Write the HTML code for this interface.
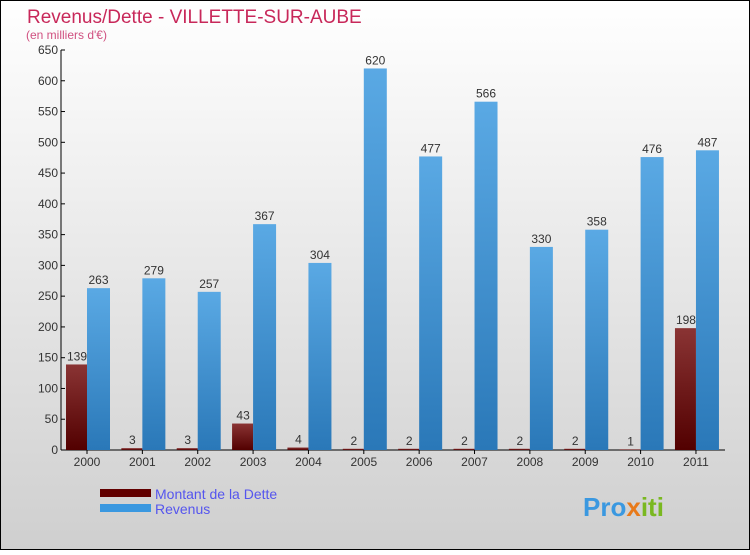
<!DOCTYPE html>
<html><head><meta charset="utf-8"><style>
body{margin:0}
svg text{font-family:"Liberation Sans",sans-serif}
</style></head><body>
<svg id="c" width="750" height="550" xmlns="http://www.w3.org/2000/svg">
<defs>
<linearGradient id="bg" x1="0" y1="0" x2="0" y2="1"><stop offset="0" stop-color="#ffffff"/><stop offset="1" stop-color="#cfcfcf"/></linearGradient>
<linearGradient id="gr" x1="0" y1="0" x2="0" y2="1"><stop offset="0" stop-color="#8a3434"/><stop offset="1" stop-color="#520000"/></linearGradient>
<linearGradient id="gb" x1="0" y1="0" x2="0" y2="1"><stop offset="0" stop-color="#5aa9e4"/><stop offset="1" stop-color="#2a78b8"/></linearGradient>
</defs>
<rect x="0.5" y="0.5" width="749" height="549" fill="url(#bg)" stroke="#000"/>
<text x="27" y="23" font-size="19" fill="#c8285a">Revenus/Dette - VILLETTE-SUR-AUBE</text>
<text x="26" y="39" font-size="12" fill="#d05080">(en milliers d'€)</text>
<g id="axes"></g>
<g id="bars"></g>
<rect x="100" y="489" width="51" height="8" fill="#620000"/>
<text x="155" y="499" font-size="14" fill="#5555ee">Montant de la Dette</text>
<rect x="100" y="504" width="51" height="8" fill="#3a98e0"/>
<text x="155" y="514" font-size="14" fill="#5555ee">Revenus</text>
<text x="583" y="516" font-size="26" font-weight="bold" fill="#3a98e0">Pro<tspan fill="#e87a1a">x</tspan><tspan fill="#7ab820">iti</tspan></text>
</svg>
<script>
const years=["2000","2001","2002","2003","2004","2005","2006","2007","2008","2009","2010","2011"];
const dette=[139,3,3,43,4,2,2,2,2,2,1,198];
const revenus=[263,279,257,367,304,620,477,566,330,358,476,487];
const ticks=[0,50,100,150,200,250,300,350,400,450,500,550,600,650];
const NS="http://www.w3.org/2000/svg";
const y0=450,ppu=400/650,x0=87,step=55.36;
const Y=v=>y0-v*ppu, X=i=>x0+i*step;
function mk(t,a,p){const e=document.createElementNS(NS,t);for(const k in a)e.setAttribute(k,a[k]);p.appendChild(e);return e;}
const ax=document.getElementById('axes'),bg=document.getElementById('bars');
let l=mk('line',{x1:61,y1:50,x2:61,y2:450,stroke:'#000'},ax);


l=mk('line',{x1:61,y1:450,x2:725,y2:450,stroke:'#000'},ax);


ticks.forEach(t=>{
 mk('line',{x1:61,y1:Y(t),x2:65,y2:Y(t),stroke:'#000'},ax);
 const e=mk('text',{x:58,y:Y(t)+4,'font-size':12,fill:'#333','text-anchor':'end'},ax);
 e.textContent=t;
 
 
});
years.forEach((yr,i)=>{
 const cx=X(i);
 mk('line',{x1:cx,y1:450,x2:cx,y2:454,stroke:'#000'},ax);
 const e=mk('text',{x:cx,y:466,'font-size':12,fill:'#333','text-anchor':'middle'},ax);
 e.textContent=yr;
 
 
 const r1=mk('rect',{x:cx-21,y:Y(dette[i]),width:21,height:dette[i]*ppu,fill:'url(#gr)'},bg);
 
 
 const r2=mk('rect',{x:cx,y:Y(revenus[i]),width:23,height:revenus[i]*ppu,fill:'url(#gb)'},bg);
 
 
 const t1=mk('text',{x:cx-10,y:Y(dette[i])-4,'font-size':12,fill:'#333','text-anchor':'middle'},bg);
 t1.textContent=dette[i];
 
 
 const t2=mk('text',{x:cx+11.5,y:Y(revenus[i])-4,'font-size':12,fill:'#333','text-anchor':'middle'},bg);
 t2.textContent=revenus[i];
 
 
});
</script>
</body></html>
